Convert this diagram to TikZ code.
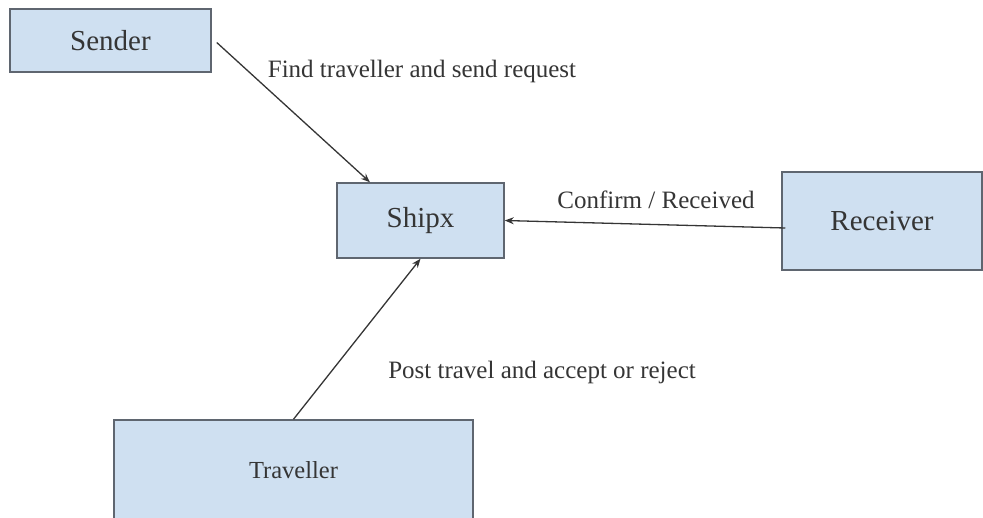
\documentclass[tikz,border=0pt]{standalone}
\usepackage{fontspec}
\setmainfont{Liberation Serif}
\usetikzlibrary{calc}
\usetikzlibrary{arrows.meta}
\definecolor{boxfill}{HTML}{CFE0F1}
\definecolor{boxline}{HTML}{5F6670}
\definecolor{inkgray}{HTML}{353535}
\tikzset{
  boite/.style={draw=boxline, line width=1.5pt, fill=boxfill, inner sep=0pt, text=inkgray},
  fleche/.style={draw=inkgray, line width=1.3pt, -{Stealth[length=9pt,width=7pt]}},
  etiquette/.style={text=inkgray, font=\fontsize{25}{28}\selectfont}
}
\begin{document}
\begin{tikzpicture}[x=1pt,y=-1pt]
            \useasboundingbox (0,0) rectangle (983,517);
            \clip (0,0) rectangle (983,517);
            \node[boite, minimum width=201pt, minimum height=63pt, font=\fontsize{29}{32}\selectfont] (sender) at (110.5,40.5) {Sender};
            \node[boite, minimum width=167pt, minimum height=75pt, font=\fontsize{29}{32}\selectfont] (shipx) at (420.5,220.5) {Shipx};
            \node[boite, minimum width=200pt, minimum height=98pt, font=\fontsize{29}{32}\selectfont] (receiver) at (882,221) {Receiver};
            \node[boite, minimum width=359pt, minimum height=100pt, font=\fontsize{24.5}{27}\selectfont] (traveller) at (293.5,470) {Traveller};
            \draw[fleche] ($(sender.east)+(5,2)$) -- ($(shipx.north west)!0.2!(shipx.north east)$);
            \draw[fleche] ($(receiver.west)+(4,7)$) -- (shipx.east);
            \draw[fleche] (traveller.north) -- (shipx.south);
            \node[etiquette] (find) at (422,71) {Find traveller and send request};
            \node[etiquette] (confirm) at (656,200) {Confirm / Received};
            \node[etiquette] (post) at (542,372) {Post travel and accept or reject};
        \end{tikzpicture}
\end{document}
